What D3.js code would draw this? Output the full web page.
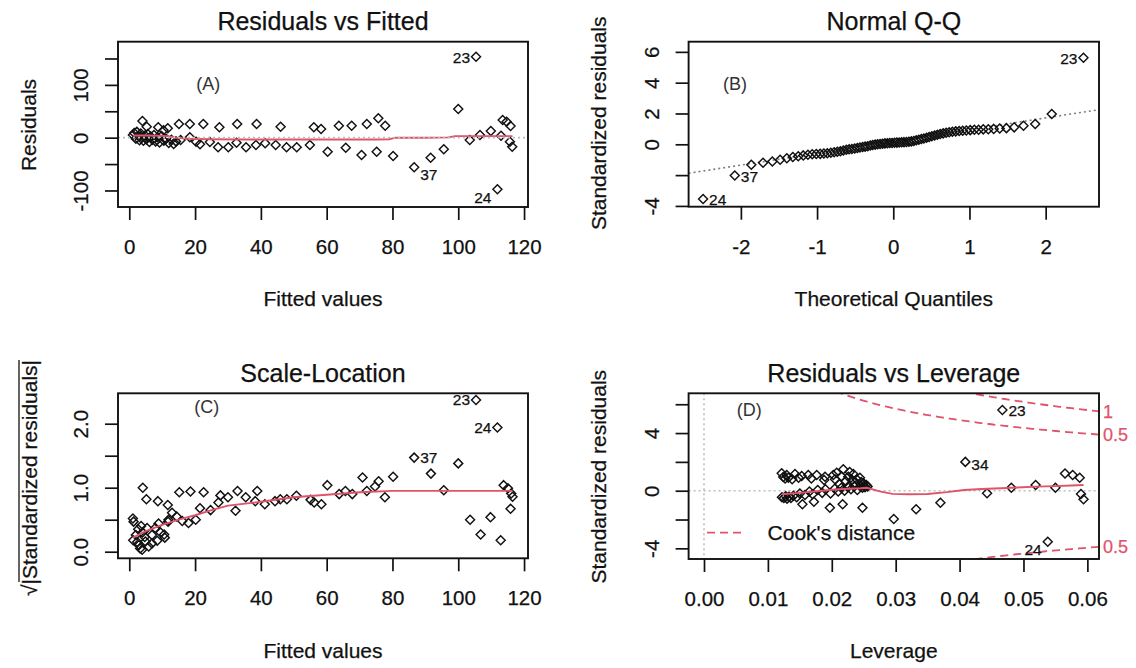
<!DOCTYPE html>
<html>
<head>
<meta charset="utf-8">
<script src="https://cdn.jsdelivr.net/npm/d3@7/dist/d3.min.js"></script>
<style>
  body { margin: 0; background: #fff; }
  svg text { font-family: "Liberation Sans", Arial, sans-serif; fill: #111; stroke: #111; stroke-width: 0.25px; }
  svg text.tag { stroke: none; fill: #333; }
  svg text.cook { fill: #DF536B; stroke: #DF536B; }
</style>
</head>
<body>
<svg id="chart" width="1136" height="668"></svg>
<script>
// ---- (A) Residuals vs Fitted ----
var fittedA = [1.1, 1.5, 2.0, 2.3, 2.8, 3.1, 3.5, 3.9, 4.3, 4.8, 5.2, 5.6, 6.1, 6.5, 7.0, 7.5, 8.0, 8.6, 9.2, 9.8, 10.5, 11.2, 12.0, 12.8, 13.5, 14.2, 10.4,
  4.0, 5.3, 8.8, 11.7, 15.1, 18.4, 22.5, 27.4, 32.8, 38.7, 46, 56.1, 58.3, 63.7, 67.6, 72.2, 75.7, 77.8, 100, 105.4, 113.5, 114.7, 115.9,
  15.6, 18.4, 20.3, 21.5, 24.5, 27, 30.1, 32.6, 35.5, 38.5, 41.3, 44.5, 47.8, 50.9, 54.9, 60.3, 65.8, 70.6, 75.2, 80.2, 86.6, 91.6, 95.6, 103.5, 106.6, 109.9, 113, 111.9, 115.7, 116.4]
var residA = [5, 9, -2, 11, 3, -5, 8, 1, -6, 4, -3, 7, -8, 2, -4, 5, -7, 1, -9, 3, -6, -2, -10, -4, -12, -7, 14,
  31.6, 20.8, 19.7, 17.8, 26, 26, 26, 19.7, 26, 26, 20.8, 19.7, 16.5, 22.7, 22.7, 26, 36.7, 22.7, 54.4, 153.4, 33.5, 30.3, 22,
  -4.4, 0.8, -7.6, -12.5, -8, -18, -18, -9.5, -18, -13.8, -10.6, -13.8, -18, -18, -13.8, -26.5, -18.9, -32.8, -26.5, -34.7, -56, -37.9, -22, -4.4, 5, 12.7, 3.8, -97.8, -7.6, -17]
var smoothFitA = [1.1, 6, 12, 14, 18, 25, 35, 45, 55, 65, 75, 79, 81, 90, 97, 99, 105, 110, 116.5]
var smoothResA = [4, 4, 3, 0, -2, -3, -3.5, -3.5, -3.5, -3.5, -3.5, -3, 0, 0, 0.5, 3, 3, 3, 3]
var idsA = [["23", 46], ["37", 70], ["24", 77]]

// ---- (B) Normal Q-Q ----
var theoQ = [-2.496, -2.080, -1.863, -1.709, -1.587, -1.485, -1.397, -1.318, -1.247, -1.181, -1.120, -1.064, -1.010, -0.959, -0.911, -0.865,
  -0.820, -0.776, -0.734, -0.694, -0.655, -0.616, -0.579, -0.543, -0.506, -0.471, -0.437, -0.402, -0.369, -0.335, -0.302, -0.270,
  -0.237, -0.205, -0.173, -0.141, -0.110, -0.078, -0.047, -0.016, 0.016, 0.047, 0.078, 0.110, 0.141, 0.173, 0.205, 0.237,
  0.270, 0.302, 0.335, 0.369, 0.402, 0.437, 0.471, 0.506, 0.543, 0.579, 0.616, 0.655, 0.694, 0.734, 0.776, 0.820,
  0.865, 0.911, 0.959, 1.010, 1.064, 1.120, 1.181, 1.247, 1.318, 1.397, 1.485, 1.587, 1.709, 1.863, 2.080, 2.496]
var sortedStd = [-3.55, -2.02, -1.33, -1.20, -1.12, -1.00, -0.90, -0.83, -0.77, -0.72, -0.68, -0.65, -0.63, -0.62, -0.60, -0.58,
  -0.55, -0.52, -0.48, -0.45, -0.40, -0.35, -0.32, -0.30, -0.27, -0.24, -0.21, -0.18, -0.15, -0.12, -0.08, -0.05,
  -0.02, 0.00, 0.02, 0.04, 0.06, 0.07, 0.08, 0.09, 0.10, 0.11, 0.12, 0.13, 0.14, 0.15, 0.17, 0.19,
  0.22, 0.26, 0.30, 0.34, 0.38, 0.42, 0.47, 0.52, 0.57, 0.62, 0.67, 0.71, 0.75, 0.78, 0.81, 0.84,
  0.86, 0.88, 0.90, 0.92, 0.94, 0.95, 0.97, 0.98, 1.00, 1.02, 1.05, 1.10, 1.20, 1.32, 1.97, 5.62]
var qqLine = [0.18, 0.766] // intercept, slope
var idsB = [["24", 0], ["37", 1], ["23", 79]]

// ---- (C) Scale-Location ----
var fittedC = [105.4, 111.9, 86.6, 100, 91.7, 95.6, 80.2, 77.7, 75.8, 74.7, 72.2, 70.9, 67.8, 65.7, 63.8, 60.2, 58.4, 56.2, 55.1, 50.8,
  47.9, 45.9, 44.3, 41.2, 38.9, 38.3, 35.4, 32.9, 32.3, 30, 27.7, 27.1, 24.7, 22.6, 21.5, 18.6, 20.2, 18, 15.2, 16.1, 14.4,
  4.1, 5.2, 8.7, 11.7, 13, 11.9, 10.6,
  103.6, 106.8, 109.8, 112.9, 113.8, 115.1, 116.1, 116.5, 115.9,
  1.1, 1.3, 1.2, 2.0, 2.9, 3.3, 3.9, 4.9, 5.4, 4.7, 6.9, 7.9, 8.9, 10.8, 11.8, 9.5, 5.9, 3.6, 2.7, 4.0, 2.4, 6.9, 8.5]
var sqrtStdC = [2.37, 1.94, 1.47, 1.38, 1.22, 0.96, 1.17, 0.85, 1.10, 1.02, 0.95, 1.16, 0.90, 0.95, 0.90, 1.04, 0.74, 0.77, 0.81, 0.875,
  0.82, 0.82, 0.79, 0.74, 0.95, 0.79, 0.85, 0.95, 0.64, 0.85, 0.88, 0.77, 0.65, 0.93, 0.68, 0.94, 0.50, 0.45, 0.93, 0.48, 0.55,
  1.0, 0.82, 0.79, 0.73, 0.61, 0.5, 0.27,
  0.5, 0.27, 0.54, 0.18, 1.04, 0.99, 0.91, 0.86, 0.67,
  0.52, 0.47, 0.18, 0.26, 0.1, 0.05, 0.03, 0.16, 0.37, 0.23, 0.26, 0.37, 0.44, 0.22, 0.47, 0.3, 0.08, 0.4, 0.35, 0.3, 0.15, 0.13, 0.17]
var smoothFitC = [1.1, 5, 10, 15, 20, 25, 30, 40, 50, 60, 70, 80, 90, 100, 110, 116.5]
var smoothSqrtC = [0.22, 0.32, 0.42, 0.5, 0.57, 0.65, 0.72, 0.78, 0.85, 0.89, 0.93, 0.95, 0.95, 0.95, 0.95, 0.95]
var idsC = [["23", 0], ["24", 1], ["37", 2]]

// ---- (D) Residuals vs Leverage ----
var levD = [0.0467, 0.0409, 0.0443, 0.0481, 0.0519, 0.055, 0.0538, 0.0565, 0.0577, 0.0588, 0.059, 0.0594, 0.037, 0.0332, 0.0297, 0.0248, 0.0217, 0.0197, 0.0172, 0.0154,
  0.01216, 0.01294, 0.01424, 0.01529, 0.01632, 0.01764, 0.01894, 0.02024, 0.02077, 0.0218, 0.02258, 0.02337, 0.0239,
  0.0124, 0.0127, 0.0132, 0.0138, 0.0148, 0.0168, 0.0188, 0.0205, 0.0215, 0.0228, 0.0232, 0.0244, 0.0246, 0.025, 0.0236, 0.0222, 0.0212,
  0.0122, 0.0125, 0.0128, 0.013, 0.0133, 0.0136, 0.014, 0.0145, 0.015, 0.0158, 0.0165, 0.017, 0.0178, 0.0185, 0.019, 0.0198, 0.0205, 0.021, 0.0215, 0.022,
  0.0225, 0.023, 0.0235, 0.024, 0.0245, 0.0248, 0.025, 0.0252, 0.0254, 0.0256]
var stdD = [5.6, 2.0, -0.18, 0.2, 0.4, 0.2, -3.54, 1.2, 1.09, 0.9, -0.23, -0.6, -0.83, -1.29, -1.97, -1.18, -0.94, -1.18, -0.76, -0.94,
  1.21, 1.09, 1.16, 1.02, 1.09, 1.09, 0.97, 1.09, 1.25, 1.49, 0.97, 1.16, 0.79,
  0.95, 0.85, 0.9, 0.8, 0.9, 0.85, 0.75, 0.8, 1.0, 1.3, 0.75, 0.9, 0.6, 0.5, 0.55, 0.65, 0.45,
  -0.45, -0.5, -0.38, -0.55, -0.42, -0.5, -0.35, -0.45, -0.2, -0.3, -0.05, -0.25, 0.05, -0.15, 0.1, -0.2, 0.15, -0.05, 0.2, 0.0,
  0.25, 0.1, 0.3, 0.05, 0.3, 0.2, 0.35, 0.25, 0.4, 0.3]
var smoothLevD = [0.0122, 0.015, 0.018, 0.021, 0.0245, 0.0255, 0.0275, 0.0295, 0.032, 0.035, 0.038, 0.0407, 0.0435, 0.0465, 0.049, 0.052, 0.055, 0.0575, 0.0594]
var smoothStdD = [-0.25, -0.15, -0.02, 0.1, 0.17, 0.2, -0.05, -0.22, -0.25, -0.23, -0.1, 0.05, 0.12, 0.17, 0.22, 0.28, 0.32, 0.36, 0.4]
var cookLevels = [0.5, 1]
var nParams = 2
var idsD = [["23", 0], ["34", 1], ["24", 6]]

var red = "#DF536B"
var ink = "#111"
var svg = d3.select("#chart")
svg.append("rect").attr("width", 1136).attr("height", 668).attr("fill", "#fff")

// R prints a plain hyphen for negatives
function plain(fmt) {
  return function (d) { return fmt(d).replace("\u2212", "-") }
}

function diamond(r) { return "M0," + (-r) + "L" + r + ",0L0," + r + "L" + (-r) + ",0Z" }

function makePanel(o) {
  var x = d3.scaleLinear().domain(o.xDom).range([o.left, o.right])
  var y = d3.scaleLinear().domain(o.yDom).range([o.bottom, o.top])
  var g = svg.append("g")

  g.append("clipPath").attr("id", o.id + "-clip")
    .append("rect").attr("x", o.left).attr("y", o.top)
    .attr("width", o.right - o.left).attr("height", o.bottom - o.top)

  var xa = g.append("g").attr("transform", "translate(0," + o.bottom + ")")
    .call(d3.axisBottom(x).tickValues(o.xTicks).tickSize(13).tickFormat(plain(o.xFmt)))
  xa.select(".domain").remove()
  xa.selectAll("line").attr("stroke", ink).attr("stroke-width", 1.7)
  xa.selectAll("text").attr("y", 40).attr("dy", "0.35em")
    .style("font-size", "20.5px").attr("fill", ink)

  var ya = g.append("g").attr("transform", "translate(" + o.left + ",0)")
    .call(d3.axisLeft(y).tickValues(o.yTicks).tickSize(13)
      .tickFormat(function (d) { return o.yShow.indexOf(d) >= 0 ? plain(o.yFmt)(d) : "" }))
  ya.select(".domain").remove()
  ya.selectAll("line").attr("stroke", ink).attr("stroke-width", 1.7)
  ya.selectAll("text").attr("x", 0).attr("y", -37).attr("dy", "0.35em")
    .attr("transform", "rotate(-90)").attr("text-anchor", "middle")
    .style("font-size", "20.5px").attr("fill", ink)

  g.append("text").attr("x", (o.left + o.right) / 2).attr("y", o.top - 20)
    .attr("dy", "0.35em").attr("text-anchor", "middle")
    .style("font-size", "25px").text(o.title)

  g.append("text").attr("x", (o.left + o.right) / 2).attr("y", o.bottom + 92)
    .attr("dy", "0.35em").attr("text-anchor", "middle")
    .style("font-size", "21px").text(o.xLabel)

  var yl = g.append("text")
    .attr("transform", "translate(" + o.yLabelX + "," + o.yLabelY + ") rotate(-90)")
    .attr("dy", "0.35em").attr("text-anchor", "middle")
    .style("font-size", "21px").text(o.yLabel)

  g.append("text").attr("class", "tag").attr("x", o.tagX).attr("y", o.tagY).attr("dy", "0.35em")
    .attr("text-anchor", "middle").style("font-size", "18px")
    .text(o.tag)

  return { g: g, x: x, y: y, yl: yl }
}

function drawPoints(p, xs, ys) {
  p.g.append("g").selectAll("path")
    .data(xs)
    .enter()
    .append("path")
    .attr("d", diamond(4.5))
    .attr("transform", function (d, i) { return "translate(" + p.x(d) + "," + p.y(ys[i]) + ")" })
    .attr("fill", "none").attr("stroke", "#111").attr("stroke-width", 1.45)
}

function drawSmooth(p, xs, ys) {
  p.g.append("path")
    .datum(xs)
    .attr("d", d3.line().x(function (d) { return p.x(d) }).y(function (d, i) { return p.y(ys[i]) }))
    .attr("fill", "none").attr("stroke", red).attr("stroke-width", 1.9)
}

function drawIds(p, ids, xs, ys, place) {
  ids.forEach(function (id, k) {
    var side = place[k][0], dy = place[k][1]
    p.g.append("text")
      .attr("x", p.x(xs[id[1]]) + (side === "r" ? 6 : -6))
      .attr("y", p.y(ys[id[1]]) + dy)
      .attr("dy", "0.35em")
      .attr("text-anchor", side === "r" ? "start" : "end")
      .style("font-size", "15.5px")
      .text(id[0])
  })
}

function drawBox(o) {
  svg.append("rect").attr("x", o.left).attr("y", o.top)
    .attr("width", o.right - o.left).attr("height", o.bottom - o.top)
    .attr("fill", "none").attr("stroke", ink).attr("stroke-width", 1.9)
}

// (A)
var oA = {
  id: "a", left: 118, right: 528, top: 41.7, bottom: 207,
  xDom: [-3.43, 121.2], yDom: [-131.3, 181.8],
  xTicks: [0, 20, 40, 60, 80, 100, 120], xFmt: d3.format("d"),
  yTicks: [-100, -50, 0, 50, 100, 150], yShow: [-100, 0, 100], yFmt: d3.format("d"),
  title: "Residuals vs Fitted", xLabel: "Fitted values", yLabel: "Residuals",
  yLabelX: 28.6, yLabelY: 125, tag: "(A)", tagX: 208.3, tagY: 83.3
}
var pA = makePanel(oA)
drawPoints(pA, fittedA, residA)
drawSmooth(pA, smoothFitA, smoothResA)
pA.g.append("line").attr("x1", oA.left).attr("x2", oA.right)
  .attr("y1", pA.y(0)).attr("y2", pA.y(0))
  .attr("stroke", "#bebebe").attr("stroke-width", 1.7).attr("stroke-dasharray", "2,3")
drawIds(pA, idsA, fittedA, residA, [["l", 1], ["r", 7], ["l", 8]])
drawBox(oA)

// (B)
var oB = {
  id: "b", left: 688.6, right: 1099, top: 41.7, bottom: 206.7,
  xDom: [-2.686, 2.70], yDom: [-4.05, 6.66],
  xTicks: [-2, -1, 0, 1, 2], xFmt: d3.format("d"),
  yTicks: [-4, -2, 0, 2, 4, 6], yShow: [-4, 0, 2, 4, 6], yFmt: d3.format("d"),
  title: "Normal Q-Q", xLabel: "Theoretical Quantiles", yLabel: "Standardized residuals",
  yLabelX: 598.6, yLabelY: 123.3, tag: "(B)", tagX: 735, tagY: 83.3
}
var pB = makePanel(oB)
pB.g.append("line").attr("clip-path", "url(#b-clip)")
  .attr("x1", oB.left).attr("x2", oB.right)
  .attr("y1", pB.y(qqLine[0] + qqLine[1] * oB.xDom[0]))
  .attr("y2", pB.y(qqLine[0] + qqLine[1] * oB.xDom[1]))
  .attr("stroke", "#7f7f7f").attr("stroke-width", 1.6).attr("stroke-dasharray", "2,3")
drawPoints(pB, theoQ, sortedStd)
drawIds(pB, idsB, theoQ, sortedStd, [["r", 1], ["r", 1], ["l", 1]])
drawBox(oB)

// (C)
var oC = {
  id: "c", left: 118, right: 528, top: 393.3, bottom: 558.3,
  xDom: [-3.43, 121.2], yDom: [-0.103, 2.475],
  xTicks: [0, 20, 40, 60, 80, 100, 120], xFmt: d3.format("d"),
  yTicks: [0, 0.5, 1, 1.5, 2], yShow: [0, 1, 2], yFmt: d3.format(".1f"),
  title: "Scale-Location", xLabel: "Fitted values", yLabel: "\u221A|Standardized residuals|",
  yLabelX: 30, yLabelY: 478, tag: "(C)", tagX: 206.7, tagY: 406.7
}
var pC = makePanel(oC)
// overbar of the square root sign
var ylLen = pC.yl.node().getComputedTextLength()
pC.g.append("line")
  .attr("x1", 30 - 11).attr("x2", 30 - 11)
  .attr("y1", 478 + ylLen / 2 - 14).attr("y2", 478 - ylLen / 2)
  .attr("stroke", ink).attr("stroke-width", 1.3)
drawPoints(pC, fittedC, sqrtStdC)
drawSmooth(pC, smoothFitC, smoothSqrtC)
drawIds(pC, idsC, fittedC, sqrtStdC, [["l", 0], ["l", 0], ["r", 0]])
drawBox(oC)

// (D)
var oD = {
  id: "d", left: 688.6, right: 1099, top: 393.3, bottom: 559,
  xDom: [-0.00241, 0.06182], yDom: [-4.74, 6.76],
  xTicks: [0, 0.01, 0.02, 0.03, 0.04, 0.05, 0.06], xFmt: d3.format(".2f"),
  yTicks: [-4, -2, 0, 2, 4, 6], yShow: [-4, 0, 4], yFmt: d3.format("d"),
  title: "Residuals vs Leverage", xLabel: "Leverage", yLabel: "Standardized residuals",
  yLabelX: 598.6, yLabelY: 476.7, tag: "(D)", tagX: 749.2, tagY: 410
}
var pD = makePanel(oD)
pD.g.append("line").attr("x1", pD.x(0)).attr("x2", pD.x(0))
  .attr("y1", oD.top).attr("y2", oD.bottom)
  .attr("stroke", "#bebebe").attr("stroke-width", 1.6).attr("stroke-dasharray", "2,3")
pD.g.append("line").attr("x1", oD.left).attr("x2", oD.right)
  .attr("y1", pD.y(0)).attr("y2", pD.y(0))
  .attr("stroke", "#bebebe").attr("stroke-width", 1.6).attr("stroke-dasharray", "2,3")
drawPoints(pD, levD, stdD)
drawSmooth(pD, smoothLevD, smoothStdD)

// Cook's distance contours
var hh = d3.range(101).map(function (i) { return 0.0003 + i * (oD.xDom[1] - 0.0003) / 100 })
cookLevels.forEach(function (lev) {
  [1, -1].forEach(function (sgn) {
    pD.g.append("path")
      .datum(hh)
      .attr("clip-path", "url(#d-clip)")
      .attr("d", d3.line()
        .x(function (h) { return pD.x(h) })
        .y(function (h) { return pD.y(sgn * Math.sqrt(lev * nParams * (1 - h) / h)) }))
      .attr("fill", "none").attr("stroke", red).attr("stroke-width", 1.8)
      .attr("stroke-dasharray", "8,5")
  })
})
var hEnd = oD.xDom[1]
;[[0.5, 1], [1, 1], [0.5, -1]].forEach(function (c) {
  var v = c[1] * Math.sqrt(c[0] * nParams * (1 - hEnd) / hEnd)
  svg.append("text").attr("class", "cook").attr("x", oD.right + 4).attr("y", pD.y(v)).attr("dy", "0.35em")
    .style("font-size", "18px").text(c[0])
})
drawIds(pD, idsD, levD, stdD, [["r", 1], ["r", 3], ["l", 8]])

// legend
pD.g.append("line").attr("x1", 707).attr("x2", 742).attr("y1", 532.7).attr("y2", 532.7)
  .attr("stroke", red).attr("stroke-width", 1.8).attr("stroke-dasharray", "8,5")
pD.g.append("text").attr("x", 767.6).attr("y", 532.7).attr("dy", "0.35em")
  .style("font-size", "21px").text("Cook's distance")
drawBox(oD)
</script>
</body>
</html>
